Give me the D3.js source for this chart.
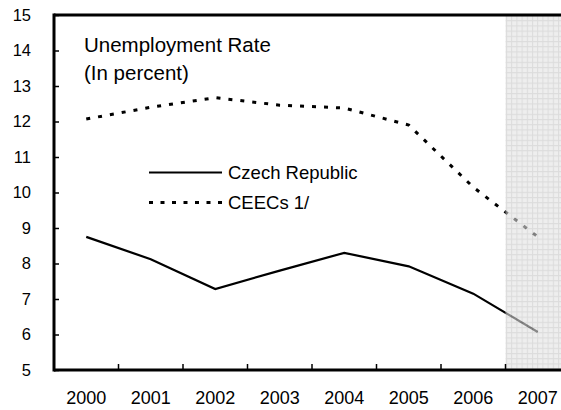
<!DOCTYPE html>
<html>
<head>
<meta charset="utf-8">
<script src="https://cdn.jsdelivr.net/npm/d3@7"></script>
<style>
  html, body { margin: 0; padding: 0; background: #fff; }
  svg { display: block; font-family: Arial, "Liberation Sans", sans-serif; }
</style>
</head>
<body>
<svg id="chart" width="561" height="410"></svg>
<script>
const years = ["2000", "2001", "2002", "2003", "2004", "2005", "2006", "2007"];
const czech = [8.75, 8.12, 7.28, 7.8, 8.3, 7.92, 7.15, 6.07];
const ceecs = [12.07, 12.4, 12.67, 12.46, 12.38, 11.9, 10.15, 8.75];
const yTicks = [5, 6, 7, 8, 9, 10, 11, 12, 13, 14, 15];
const seriesNames = ["Czech Republic", "CEECs 1/"];
const shadedYears = ["2007"];

(function () {
const svg = d3.select("#chart");
const pL = 54, pR = 570, pT = 15, pB = 370;
const FONT = "Arial, 'Liberation Sans', sans-serif";

const x = d3.scaleBand().domain(years).range([pL, pR]).padding(0);
const y = d3.scaleLinear().domain([5, 15]).range([pB, pT]);

// pattern for projection shading
const defs = svg.append("defs");
const pat = defs.append("pattern")
  .attr("id", "grid").attr("patternUnits", "userSpaceOnUse")
  .attr("width", 5.2).attr("height", 5.2).attr("x", 506).attr("y", pT);
pat.append("rect").attr("width", 5.2).attr("height", 5.2).attr("fill", "#e2e2e2");
pat.append("path").attr("d", "M0,0.5 H5.2 M0.5,0 V5.2").attr("stroke", "#c4c4c4").attr("stroke-width", 1).attr("fill", "none");

const line = d3.line().x((d, i) => x(years[i]) + x.bandwidth() / 2).y(d => y(d));

svg.append("path").datum(czech).attr("d", line)
  .attr("fill", "none").attr("stroke", "#000").attr("stroke-width", 2.2);
svg.append("path").datum(ceecs).attr("d", line)
  .attr("fill", "none").attr("stroke", "#000").attr("stroke-width", 3)
  .attr("stroke-dasharray", "4,8");

// shaded projection area (semi-transparent over lines)
shadedYears.forEach(yr => {
  svg.append("rect")
    .attr("x", x(yr)).attr("y", pT)
    .attr("width", x.bandwidth()).attr("height", pB - pT)
    .attr("fill", "url(#grid)").attr("opacity", 0.6);
});

// axes
const yAxis = d3.axisLeft(y).tickValues(yTicks).tickSize(-5).tickPadding(23).tickFormat(d3.format("d"));
const gy = svg.append("g").attr("transform", `translate(${pL},0)`).call(yAxis);
gy.select(".domain").remove();
gy.selectAll(".tick line").attr("stroke", "#000").attr("stroke-width", 1.5);
gy.selectAll(".tick text").attr("font-size", 16.5).attr("fill", "#000").attr("font-family", FONT);

const xAxis = d3.axisBottom(x).tickSize(0).tickPadding(21);
const gx = svg.append("g").attr("transform", `translate(0,${pB})`).call(xAxis);
gx.select(".domain").remove();
gx.selectAll(".tick text").attr("font-size", 18).attr("fill", "#000").attr("font-family", FONT);

// x boundary ticks between categories
svg.append("g").selectAll("line").data(years.slice(1))
  .join("line")
  .attr("x1", d => x(d)).attr("x2", d => x(d))
  .attr("y1", pB).attr("y2", pB - 6)
  .attr("stroke", "#000").attr("stroke-width", 1.5);

// frame lines
svg.append("line").attr("x1", pL).attr("x2", pL).attr("y1", pT - 1.5).attr("y2", pB + 1.5)
  .attr("stroke", "#000").attr("stroke-width", 3);
svg.append("line").attr("x1", pL).attr("x2", 561).attr("y1", pB).attr("y2", pB)
  .attr("stroke", "#000").attr("stroke-width", 3);
svg.append("line").attr("x1", pL).attr("x2", 561).attr("y1", pT).attr("y2", pT)
  .attr("stroke", "#000").attr("stroke-width", 3);

// title
const title = svg.append("text").attr("font-size", 20.5).attr("fill", "#000").attr("font-family", FONT);
title.append("tspan").attr("x", 84).attr("y", 52).text("Unemployment Rate");
title.append("tspan").attr("x", 84).attr("y", 80).text("(In percent)");

// legend
const legendY = [172.5, 202.5];
const lg = svg.append("g");
lg.append("line").attr("x1", 149).attr("x2", 222).attr("y1", legendY[0]).attr("y2", legendY[0])
  .attr("stroke", "#000").attr("stroke-width", 2.2);
lg.append("line").attr("x1", 149).attr("x2", 222).attr("y1", legendY[1]).attr("y2", legendY[1])
  .attr("stroke", "#000").attr("stroke-width", 3).attr("stroke-dasharray", "4,7.5");
seriesNames.forEach((n, i) => {
  lg.append("text").attr("x", 228).attr("y", legendY[i]).attr("dy", "0.35em")
    .attr("font-size", 18.5).attr("fill", "#000").attr("font-family", FONT).text(n);
});
})();
</script>
</body>
</html>
